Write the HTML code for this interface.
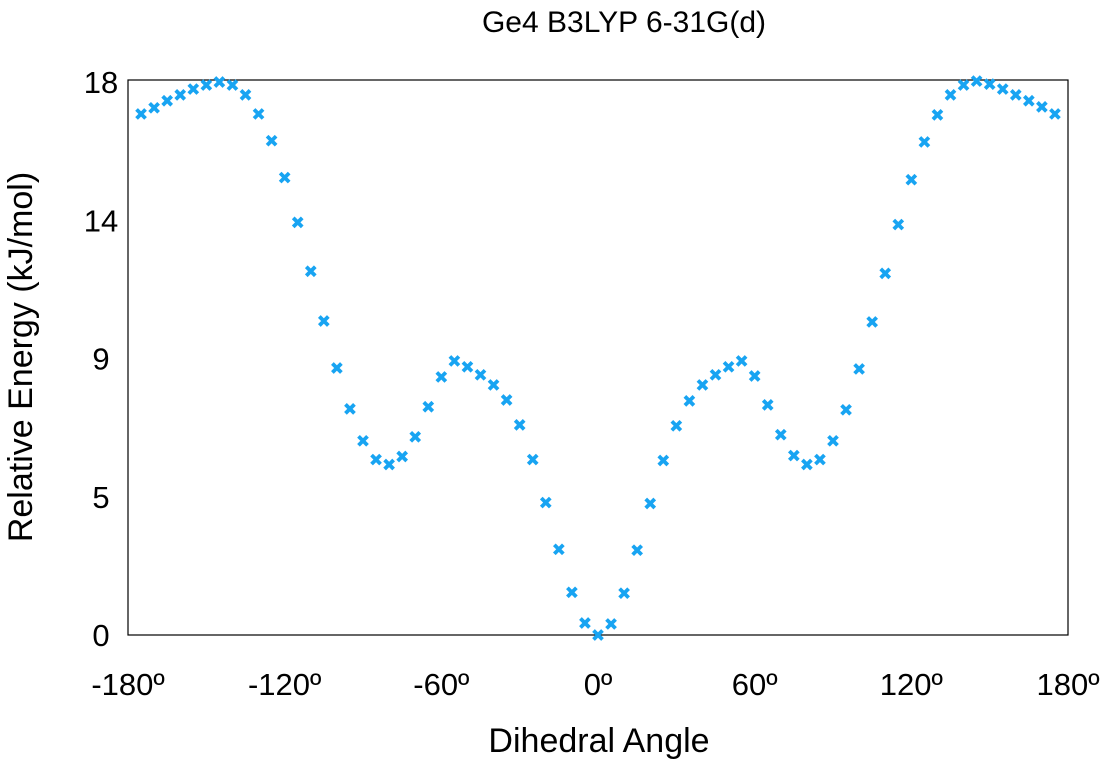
<!DOCTYPE html>
<html><head><meta charset="utf-8"><style>
body{margin:0;background:#fff;}
svg text{font-family:"Liberation Sans",Arial,sans-serif;fill:#000;}
</style></head><body>
<svg id="chart" width="1105" height="764" xmlns="http://www.w3.org/2000/svg">
<text x="624" y="32" font-size="30" text-anchor="middle">Ge4 B3LYP 6-31G(d)</text>
<rect x="128" y="80" width="940" height="555" fill="none" stroke="#000" stroke-width="1.2"/>
<g id="yticks"></g>
<g id="xticks"></g>
<text x="599" y="752" font-size="34" text-anchor="middle">Dihedral Angle</text>
<text transform="translate(32,357) rotate(-90)" font-size="34" text-anchor="middle">Relative Energy (kJ/mol)</text>
<g id="points"></g>
</svg>
<script>
const angles=[-175,-170,-165,-160,-155,-150,-145,-140,-135,-130,-125,-120,-115,-110,-105,-100,-95,-90,-85,-80,-75,-70,-65,-60,-55,-50,-45,-40,-35,-30,-25,-20,-15,-10,-5,0,5,10,15,20,25,30,35,40,45,50,55,60,65,70,75,80,85,90,95,100,105,110,115,120,125,130,135,140,145,150,155,160,165,170,175];
const energies=[16.96,17.16,17.39,17.58,17.77,17.9,18.0,17.9,17.58,16.96,16.09,14.89,13.43,11.84,10.22,8.69,7.36,6.32,5.71,5.55,5.81,6.45,7.43,8.4,8.92,8.73,8.47,8.14,7.65,6.84,5.71,4.31,2.79,1.39,0.39,0,0.36,1.36,2.76,4.28,5.68,6.81,7.62,8.14,8.47,8.73,8.92,8.43,7.49,6.52,5.84,5.55,5.71,6.32,7.33,8.66,10.19,11.77,13.36,14.82,16.05,16.93,17.58,17.9,18.03,17.93,17.77,17.58,17.39,17.19,16.96];
const yTickValues=[0,4.5,9,13.5,18];
const yTickLabels=["0","5","9","14","18"];
const xTickValues=[-180,-120,-60,0,60,120,180];
const xTickLabels=["-180º","-120º","-60º","0º","60º","120º","180º"];
const NS="http://www.w3.org/2000/svg";
const X=v=>128+(v+180)/360*940;
const Y=v=>635-v/18*553;
const yt=document.getElementById('yticks');
yTickValues.forEach((v,i)=>{const t=document.createElementNS(NS,'text');


t.setAttribute('x',101);t.setAttribute('y',Y(v)+11);t.setAttribute('font-size','31');t.setAttribute('text-anchor','middle');
t.textContent=yTickLabels[i];yt.appendChild(t);});
const xt=document.getElementById('xticks');
xTickValues.forEach((v,i)=>{const t=document.createElementNS(NS,'text');


t.setAttribute('x',X(v));t.setAttribute('y',695);t.setAttribute('font-size','31');t.setAttribute('text-anchor','middle');
t.textContent=xTickLabels[i];xt.appendChild(t);});
const pg=document.getElementById('points');
angles.forEach((a,i)=>{const cx=X(a),cy=Y(energies[i]),s=4.5;
const p=document.createElementNS(NS,'path');


p.setAttribute('d',`M${cx-s},${cy-s}L${cx+s},${cy+s}M${cx-s},${cy+s}L${cx+s},${cy-s}`);
p.setAttribute('stroke','#18a4f2');p.setAttribute('stroke-width','3.8');
pg.appendChild(p);});
</script>
</body></html>
